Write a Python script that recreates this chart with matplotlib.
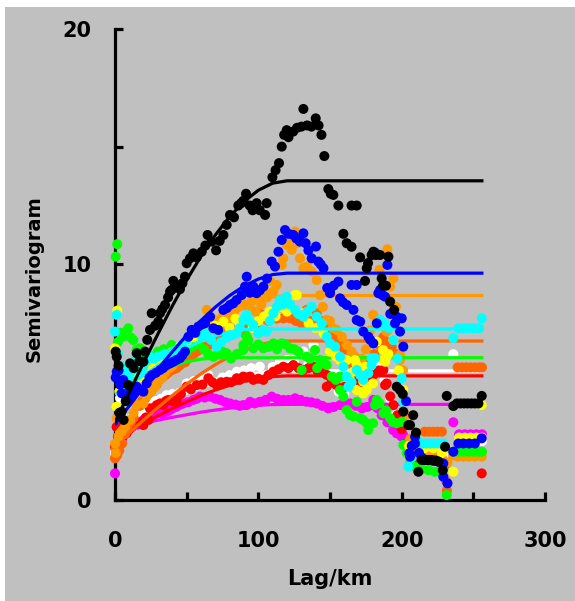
import matplotlib
matplotlib.use('Agg')
import matplotlib.pyplot as plt
from matplotlib.patches import Rectangle
from matplotlib.ticker import MultipleLocator

# experimental semivariogram points, one list pair per series
black_x = [0.5, 1.2, 2.5, 3, 4.7, 6, 7.5, 9.3, 10.5, 13, 15.1, 17, 19.8, 20.9, 22.5, 24.4, 25.6, 28, 30.2, 31.4,
           33, 34.9, 37, 38.4, 39.5, 40.7, 43, 45.3, 47, 48.8, 50, 52.3, 54.7, 57, 60.5, 63, 64.6, 67.4, 70.5, 73,
           75.6, 77.9, 80.2, 83, 86, 88, 89.5, 91.4, 94, 96, 98.8, 101, 104.7, 105.8, 109.8, 112, 114.4, 116.3, 118,
           119.8, 121, 124.3, 127, 130, 131.4, 134, 137, 140, 142, 144, 146, 148.8, 150.5, 152.3, 155.8, 159.3,
           161.6, 165, 165, 168.6, 171, 174.4, 175.6, 176.5, 179, 180.2, 182, 184.9, 186, 187, 189, 190.7, 191.9,
           194.7, 196.5, 198.8, 200.7, 201.1, 204.6, 205.8, 208, 210, 211.6, 214, 216.3, 218.6, 221, 223.5, 225.6,
           228.6, 230.2, 231.4, 236, 238.5, 241, 243.5, 246, 248.5, 251, 253.5, 255.8]
black_y = [6.3, 6.08, 5.7, 3.7, 3.75, 3.4, 4.2, 4.88, 5.8, 5.6, 6.23, 5.9, 5.87, 6.3, 6.8, 7.22, 7.93, 7.4, 7.57, 7.93,
           8.1, 8.28, 8.6, 8.85, 8.92, 9.3, 9.1, 8.95, 9.2, 9.48, 10.05, 10.26, 10.47, 10.3, 10.54, 10.8, 11.25, 10.97,
           10.6, 11.0, 11.25, 11.68, 12.1, 12.0, 12.5, 12.6, 12.7, 13.0, 12.5, 12.3, 12.6, 12.3, 12.1, 12.6, 13.7,
           14.0, 14.3, 15.0, 15.5, 15.7, 15.4, 15.64, 15.8, 15.85, 16.6, 15.9, 15.85, 16.2, 15.9, 15.5, 14.6, 13.2,
           13.0, 12.95, 12.5, 11.3, 10.9, 10.75, 12.5, 12.5, 10.3, 9.3, 9.84, 10.06, 10.4, 10.54, 10.4, 10.4, 9.41,
           9.1, 9.1, 10.33, 8.42, 8.07, 4.81, 4.67, 4.5, 3.75, 3.18, 3.18, 3.6, 2.86, 1.2, 1.7, 1.7, 1.7, 1.7, 1.68,
           1.63, 1.27, 2.26, 4.42, 3.99, 4.1, 4.1, 4.1, 4.1, 4.1, 4.1, 4.1, 4.42]

blue_x = [0.5, 1.2, 2.5, 3.5, 4.7, 5.8, 8, 10.5, 13, 15.1, 17.5, 19.8, 22.1, 24, 25.6, 28.5, 31.4, 33.5, 36.1, 38.5,
          40.7, 43, 45.3, 47, 48.8, 51.2, 53.5, 56, 58.1, 60.5, 62.8, 66.3, 68.6, 72, 75.6, 78, 80.2, 82.5, 84.8,
          88.3, 90.7, 91.9, 94, 96.5, 98.8, 101, 103.5, 106, 109.3, 111.6, 114, 116.3, 118.6, 121, 124.4, 126.5,
          129, 131.4, 133, 134.9, 137.2, 140.2, 141.9, 143.5, 145.4, 148, 150, 150, 152.5, 155.8, 157, 159, 161.6,
          165, 166.3, 168.6, 168.6, 171, 173.2, 176.7, 178, 180.2, 181.5, 182.6, 183.7, 184.9, 186.5, 188.4, 190,
          192, 195.3, 196.5, 198.8, 200, 201.1, 203, 205.3, 205.8, 207, 209.3, 209.3, 212, 214, 216.3, 219, 222,
          225.6, 229, 229, 231.9, 236, 239.5, 243, 247, 251, 255.8]
blue_y = [5.2, 5.45, 5.5, 4.9, 4.53, 5.1, 4.5, 4.3, 4.6, 4.81, 4.7, 4.6, 4.95, 5.2, 5.3, 5.4, 5.52, 5.6, 5.73, 5.8,
          5.87, 5.95, 6.02, 6.15, 6.3, 6.93, 7.22, 7.1, 7.36, 7.45, 7.5, 7.78, 7.29, 7.22, 8.07, 8.15, 8.28, 8.35,
          8.49, 8.7, 9.06, 9.48, 8.8, 9.06, 8.78, 8.9, 9.06, 9.4, 10.12, 9.91, 10.54, 11.04, 11.46, 11.3, 11.25,
          11.1, 10.97, 11.32, 10.9, 10.6, 10.26, 10.76, 10.12, 10.0, 9.84, 9.0, 8.92, 8.78, 9.1, 9.27, 8.56, 8.4,
          8.28, 9.13, 8.07, 9.13, 7.64, 7.57, 7.15, 6.93, 6.8, 6.65, 10.5, 7.5, 8.78, 8.92, 8.7, 8.63, 9.98,
          7.9, 7.5, 7.78, 7.15, 7.71, 6.51, 4.2, 1.98, 1.84, 2.3, 2.69, 2.4, 2.0, 1.8, 1.7, 1.7, 1.66,
          1.63, 1.55, 0.99, 0.71, 2.05, 2.4, 2.4, 2.4, 2.4, 2.62]

orange_x = [0, 0.5, 1.2, 2.5, 4.7, 7, 10.5, 13, 15.1, 19.8, 22, 25, 28, 30, 33, 35, 38, 40, 43, 45, 48, 50, 53, 55,
            58, 60, 62, 64, 66, 68, 70, 73, 75, 78, 80, 83, 85, 88, 90, 93, 95, 98, 100, 102, 104, 106, 108, 110.5,
            112.8, 116.3, 117.4, 119.8, 121, 123.3, 125.6, 127, 129, 131.4, 134, 137.2, 140.7, 143, 145, 147.7, 150,
            152, 154.7, 158.2, 161.6, 165, 167.4, 170, 172, 175, 178, 180, 182.6, 184.4, 187.2, 189.5, 190, 191.9,
            194.2, 196, 198.8, 198.8, 201, 203, 206, 209, 213, 218, 223, 228, 232, 236, 239, 243, 247, 251, 255.8]
orange_y = [2.4, 2.0, 3.47, 2.7, 2.9, 3.1, 3.4, 3.7, 4.03, 4.1, 4.4, 4.6, 4.8, 5.0, 5.2, 5.4, 5.6, 5.7, 5.9, 6.0, 6.3,
            6.5, 6.7, 6.8, 7.1, 7.3, 7.5, 8.07, 7.4, 7.7, 7.6, 7.3, 7.8, 7.6, 7.9, 8.0, 8.2, 7.6, 8.3, 8.2, 8.4,
            8.0, 8.6, 8.3, 8.9, 8.6, 9.3, 8.85, 9.13, 9.98, 10.26, 10.83, 11.1, 10.62, 11.39, 10.9, 10.26, 9.84,
            9.9, 9.7, 9.34, 8.7, 8.2, 7.64, 7.6, 7.3, 7.22, 6.93, 6.58, 6.3, 6.09, 5.8, 6.0, 6.4, 7.2, 7.86, 7.64,
            9.77, 7.5, 7.15, 10.64, 9.06, 9.41, 8.2, 6.16, 5.94, 5.5, 3.6, 2.6, 2.3, 2.0, 1.9, 1.9, 1.8, 1.6, 1.9,
            1.84, 1.84, 1.84, 1.84, 1.84]

dorange_x = [0, 0.5, 1.5, 3, 5, 7, 9, 11, 13, 15.1, 17, 19, 21, 23, 25, 27, 29, 31, 33, 35, 37, 39, 41, 43, 45, 47,
             49, 51, 53, 55, 57, 60, 63, 66, 69, 72, 75, 78, 81, 84, 87, 90, 93, 96, 99, 101, 104, 107, 110, 113,
             117.4, 122, 126, 130, 133.7, 137, 140.7, 144, 148, 151, 154, 157, 160, 163, 166, 169, 172, 175, 178,
             181, 184, 187, 190, 193, 196, 199, 202, 205, 208, 212, 216, 219, 222, 225, 228, 231, 231.5, 239, 242,
             245, 248, 251, 254, 256]
dorange_y = [1.77, 2.2, 1.9, 2.1, 2.4, 2.8, 3.0, 3.3, 3.5, 4.03, 4.0, 4.2, 4.3, 4.5, 4.6, 4.8, 4.9, 5.1, 5.2, 5.3,
             5.4, 5.5, 5.55, 5.6, 5.7, 5.8, 5.85, 6.0, 6.1, 6.2, 6.3, 6.4, 6.5, 6.6, 6.7, 6.9, 7.0, 7.1, 7.0, 7.2,
             7.3, 7.1, 7.3, 7.4, 7.5, 7.93, 7.7, 7.6, 7.8, 7.7, 7.71, 7.71, 7.6, 7.5, 8.07, 7.6, 7.93, 7.6, 7.3,
             7.0, 6.9, 6.6, 6.4, 6.0, 5.7, 5.6, 5.4, 5.5, 5.8, 6.2, 6.6, 6.9, 6.7, 6.5, 6.2, 5.5, 4.2, 2.5, 2.0,
             2.3, 2.9, 2.9, 2.9, 2.9, 2.9, 0.8, 0.4, 5.63, 5.63, 5.63, 5.63, 5.63, 5.63, 5.63]

cyan_x = [0, 1.2, 2, 4.7, 5.8, 8, 10, 12, 14, 16.3, 18, 19.8, 22, 24.4, 27, 30, 33.7, 36, 38, 41, 44, 47, 50, 52.3,
          55, 57, 60, 64, 67, 71, 74, 78, 82, 85, 87, 89.5, 91.9, 94, 96.5, 100, 103, 105.6, 108, 110.5, 113, 115,
          117, 119.8, 122, 125.6, 128, 131.4, 134, 137.2, 140.7, 144.2, 147.7, 150, 153.5, 157, 159.3, 161.6, 162.8,
          165, 168.6, 171, 173.2, 176.7, 179, 179, 181.4, 184.9, 188, 191, 194.2, 197, 200, 201.1, 204.6, 207, 211,
          214, 217, 220, 223, 226, 229, 236, 239.5, 243, 246.5, 250, 254, 255.8]
cyan_y = [7.15, 7.86, 6.2, 5.66, 5.66, 5.4, 5.2, 5.5, 5.9, 5.8, 5.5, 5.66, 5.9, 6.08, 6.0, 6.1, 6.16, 6.2, 6.2, 6.3,
          6.4, 6.6, 6.8, 7.0, 7.1, 7.15, 7.0, 7.08, 6.8, 6.51, 6.7, 6.9, 7.0, 7.08, 7.3, 7.64, 7.86, 7.6, 7.43,
          7.08, 7.2, 7.15, 7.6, 7.93, 8.2, 8.49, 8.3, 8.63, 8.3, 8.07, 7.9, 7.78, 8.0, 8.21, 7.78, 7.5, 6.93, 6.65,
          6.51, 6.08, 5.66, 5.24, 4.81, 5.0, 5.52, 5.3, 5.1, 5.38, 5.73, 6.02, 6.02, 7.64, 7.5, 7.3, 6.79, 6.0,
          5.17, 4.17, 1.41, 1.8, 2.48, 2.4, 2.4, 2.4, 2.4, 2.4, 2.4, 6.87, 7.29, 7.29, 7.29, 7.29, 7.29, 7.71]

green_x = [0.5, 1.6, 2, 4, 5.8, 9.3, 11, 12.8, 15.1, 17.4, 20, 23, 26, 30, 34, 39.5, 42, 46, 50, 54, 58, 62, 65,
           68.6, 72, 75, 77.9, 81, 85, 89.5, 89.5, 91.9, 93, 96.5, 100, 103.5, 107, 110.5, 113, 116.3, 119, 122,
           125, 127.9, 130.2, 133.7, 136, 139.5, 141, 143, 145, 147.7, 151.2, 154, 157, 157, 159.3, 161.6, 164,
           166.3, 168.6, 171, 173, 175.6, 176.7, 180, 181.4, 182.6, 184.5, 187.2, 189, 191.9, 194, 196.5, 200,
           201.1, 203.5, 206, 210, 214, 218.6, 223, 226.5, 229, 231.4, 236, 239.5, 243, 246.5, 250, 253.5, 256]
green_y = [10.33, 10.86, 6.7, 7.1, 6.93, 7.29, 6.9, 6.79, 6.37, 6.44, 6.2, 6.0, 6.1, 6.3, 6.4, 6.58, 6.4, 6.2, 6.3,
           6.5, 6.6, 6.4, 6.2, 6.08, 6.2, 6.3, 6.23, 6.0, 6.2, 6.37, 6.58, 6.93, 6.79, 6.44, 6.6, 6.44, 6.5, 6.65,
           6.4, 6.65, 6.6, 6.44, 6.4, 6.3, 5.52, 6.09, 6.0, 6.37, 5.6, 5.94, 5.8, 5.73, 5.24, 5.1, 5.24, 4.67,
           4.39, 3.82, 3.6, 3.54, 4.17, 3.47, 3.4, 3.26, 2.97, 3.26, 4.03, 4.25, 4.1, 3.68, 3.8, 3.47, 3.3, 3.26,
           3.32, 2.34, 2.0, 1.6, 1.4, 1.3, 1.27, 1.2, 1.2, 1.3, 0.21, 2.05, 2.05, 2.05, 2.05, 2.05, 2.05, 2.05]

white_x = [0, 1.5, 3.5, 5, 8, 12, 16, 20, 24, 28, 32, 36, 40, 45, 50, 55, 60, 65, 70, 75, 80, 85, 90, 95, 101, 105,
           110, 115, 120, 125, 131.4, 135, 138.4, 142, 145, 148.8, 152, 156, 160, 165, 170, 175, 180, 185, 188, 192,
           196, 200, 204, 208, 212, 218, 224, 229, 236, 240, 244, 248, 252, 256]
white_y = [2.0, 2.5, 4.32, 3.6, 3.3, 3.5, 3.6, 3.5, 4.0, 4.2, 4.3, 4.45, 4.5, 4.55, 4.95, 5.05, 5.1, 5.3, 5.0, 5.2,
           5.3, 5.45, 5.5, 5.6, 5.66, 5.3, 5.65, 5.85, 5.95, 5.95, 6.3, 5.8, 6.58, 5.7, 5.5, 4.81, 5.0, 4.6, 4.5,
           4.9, 4.7, 5.2, 5.6, 5.75, 5.1, 4.3, 3.6, 3.0, 2.2, 2.0, 2.2, 2.1, 2.1, 1.9, 6.19, 2.5, 2.5, 2.5, 2.5, 2.5]

red_x = [0, 0.8, 1.2, 2, 3.5, 5.5, 8.1, 10, 12.5, 15.1, 17.5, 19.8, 21.5, 23.3, 24.4, 26.5, 29.1, 31.5, 33.7, 35.5,
         37.2, 40, 43, 46, 50, 53, 57, 61, 65.1, 68, 71, 74, 77.9, 81, 84.9, 87, 89.5, 92, 94.2, 96.5, 100, 103.5,
         107, 110.5, 114, 117.4, 121, 124.4, 128, 131.4, 135, 138.4, 141, 143, 145.5, 147.7, 147.7, 151, 154, 157,
         160, 164, 168, 172, 176, 180, 184, 187.2, 188.4, 189.5, 192, 194.2, 197, 200, 203, 206, 210, 215, 220,
         225, 230, 255.8]
red_y = [2.26, 2.0, 3.1, 2.69, 2.55, 2.7, 2.83, 3.0, 3.2, 3.26, 3.3, 3.18, 3.5, 3.4, 3.89, 3.9, 4.03, 4.1, 4.03,
         4.2, 4.25, 4.2, 4.25, 4.5, 4.81, 4.7, 4.88, 4.9, 5.17, 5.0, 4.88, 5.0, 5.02, 5.0, 5.17, 5.1, 5.24, 5.2,
         5.24, 5.1, 5.15, 5.1, 5.3, 5.45, 5.55, 5.66, 5.6, 5.73, 5.6, 5.52, 5.6, 5.66, 5.5, 5.52, 5.4, 5.31, 4.81,
         5.0, 4.9, 4.7, 4.8, 4.9, 5.1, 5.0, 5.2, 5.3, 5.5, 5.52, 4.88, 4.95, 4.4, 4.03, 3.6, 3.0, 2.4, 2.0, 1.8,
         1.9, 1.9, 1.8, 1.5, 1.13]

magenta_x = [0, 1.2, 2, 5, 8, 12, 16, 20, 24, 27, 29.1, 31.5, 33.7, 36, 38.4, 40.5, 43, 45.5, 47.7, 51, 54.7, 57,
             59.3, 62.5, 66.3, 70, 73.3, 77, 80.2, 84, 87, 89.5, 91.9, 94.2, 97.5, 101, 105, 109.3, 113, 117.4, 121,
             125.6, 129.5, 133.7, 137, 140.7, 144.5, 148.8, 152.5, 157, 160.5, 164, 168, 172.3, 176, 179.3, 180.2,
             183, 186, 190, 194, 196.5, 199.8, 201, 203, 206, 210, 236, 240, 244, 248, 252, 256]
magenta_y = [1.13, 3.1, 2.2, 2.6, 2.9, 3.1, 3.2, 3.4, 3.5, 3.6, 3.68, 3.7, 3.68, 3.75, 3.82, 3.9, 3.96, 4.05, 4.1,
             4.15, 4.25, 4.3, 4.39, 4.35, 4.39, 4.3, 4.25, 4.15, 4.1, 4.05, 4.0, 4.03, 4.03, 4.17, 4.1, 4.17, 4.25,
             4.39, 4.3, 4.25, 4.25, 4.32, 4.25, 4.17, 4.15, 4.1, 4.0, 3.89, 3.95, 4.03, 4.05, 4.1, 4.0, 3.89, 3.95,
             4.03, 4.25, 3.9, 3.6, 3.3, 2.97, 2.83, 2.7, 2.76, 2.6, 2.4, 2.0, 3.3, 2.79, 2.79, 2.79, 2.79, 2.79]

yellow_x = [0, 1.6, 1, 3, 5.8, 8, 10, 12, 15, 18, 22, 26, 30, 35, 40, 45, 50, 55, 60, 65, 70, 75.6, 80, 84, 87, 92,
            96, 100, 104, 108, 112, 116, 120, 125.6, 126.8, 131.4, 135, 140, 145.4, 150, 154, 157, 161.6, 164, 166.3,
            167.4, 168.6, 168.6, 173.2, 173.2, 174.4, 175.6, 180, 182.6, 187, 187.2, 188.4, 189.5, 190.7, 194.2, 198,
            201.1, 205, 210, 216, 222, 228, 236, 240, 244, 248, 252, 255.8, 256]
yellow_y = [6.44, 8.04, 3.96, 4.6, 4.67, 5.0, 5.2, 5.5, 5.4, 5.2, 5.5, 5.8, 6.0, 6.2, 6.3, 6.5, 6.7, 6.9, 7.1, 7.3,
            7.4, 7.57, 7.3, 7.7, 7.5, 7.7, 7.3, 7.6, 7.8, 8.0, 7.8, 8.2, 8.0, 8.7, 8.7, 7.93, 7.5, 7.3, 7.08, 6.3,
            6.1, 5.94, 5.94, 5.1, 5.45, 5.94, 5.73, 4.67, 4.53, 5.02, 5.66, 4.67, 4.95, 6.72, 6.37, 5.94, 5.87,
            6.09, 6.2, 6.8, 5.5, 4.67, 2.3, 2.4, 2.2, 2.2, 2.0, 1.2, 2.65, 2.65, 2.65, 2.65, 4.03, 2.65]

# fitted model curves
line_x = [0, 10, 20, 30, 40, 50, 60, 70, 80, 90, 100, 110, 120, 257]
black_fit = [3.3, 4.58, 5.84, 7.06, 8.24, 9.34, 10.35, 11.25, 12.03, 12.67, 13.15, 13.45, 13.55, 13.55]
blue_fit = [3.2, 4.0, 4.79, 5.56, 6.3, 6.99, 7.62, 8.19, 8.68, 9.08, 9.38, 9.57, 9.63, 9.63]
orange_fit = [2.8, 3.53, 4.26, 4.96, 5.63, 6.26, 6.84, 7.36, 7.81, 8.17, 8.45, 8.62, 8.68, 8.68]
cyan_fit = [4.5, 4.9, 5.3, 5.7, 6.1, 6.45, 6.75, 6.98, 7.14, 7.23, 7.26, 7.26, 7.26, 7.26]
dorange_fit = [2.3, 2.85, 3.4, 3.93, 4.44, 4.92, 5.36, 5.75, 6.09, 6.37, 6.58, 6.71, 6.75, 6.75]
green_fit = [4.6, 4.9, 5.2, 5.45, 5.7, 5.87, 5.98, 6.03, 6.04, 6.04, 6.04, 6.04, 6.04, 6.04]
white_fit = [3.2, 3.48, 3.76, 4.04, 4.3, 4.54, 4.77, 4.97, 5.14, 5.28, 5.39, 5.46, 5.48, 5.48]
red_fit = [2.6, 2.93, 3.26, 3.58, 3.89, 4.17, 4.44, 4.67, 4.87, 5.04, 5.17, 5.24, 5.27, 5.27]
magenta_fit = [3.0, 3.13, 3.26, 3.39, 3.51, 3.62, 3.73, 3.82, 3.9, 3.97, 4.02, 4.05, 4.06, 4.06]

# drawing order, bottom to top: (points x, points y, model curve, colour)
series = [
    (white_x, white_y, white_fit, '#ffffff'),
    (magenta_x, magenta_y, magenta_fit, '#ff00ff'),
    (red_x, red_y, red_fit, '#ff0000'),
    (dorange_x, dorange_y, dorange_fit, '#ff6600'),
    (orange_x, orange_y, orange_fit, '#ff9900'),
    (green_x, green_y, green_fit, '#00ff00'),
    (yellow_x, yellow_y, None, '#ffff00'),
    (cyan_x, cyan_y, cyan_fit, '#00ffff'),
    (blue_x, blue_y, blue_fit, '#0000ff'),
    (black_x, black_y, black_fit, '#000000'),
]

fig = plt.figure(figsize=(5.75, 6.01), dpi=100, facecolor='white')
fig.patches.append(Rectangle((5 / 575, 0), 1, 594 / 601, transform=fig.transFigure,
                             facecolor='#c0c0c0', edgecolor='none', zorder=-10))
ax = fig.add_axes([0.2, 0.168, 0.748, 0.784])
ax.set_facecolor('none')

z = 3
for xs, ys, fit, c in series:
    if fit is not None:
        ax.plot(line_x, fit, color=c, lw=2.3, zorder=z, solid_capstyle='butt')
    ax.scatter(xs, ys, s=52, color=c, edgecolors='none', zorder=z + 0.01, clip_on=False)
    z += 0.1

ax.set_xlim(0, 300)
ax.set_ylim(0, 20)
ax.xaxis.set_major_locator(MultipleLocator(100))
ax.xaxis.set_minor_locator(MultipleLocator(50))
ax.yaxis.set_major_locator(MultipleLocator(10))
ax.yaxis.set_minor_locator(MultipleLocator(5))
for s in ['top', 'right']:
    ax.spines[s].set_visible(False)
for s in ['left', 'bottom']:
    ax.spines[s].set_linewidth(2.3)
ax.tick_params(which='both', direction='in', length=6, width=2.3, color='black')
ax.tick_params(axis='x', which='major', pad=22, labelsize=15)
ax.tick_params(axis='y', which='major', pad=17, labelsize=15)
for lab in ax.get_xticklabels() + ax.get_yticklabels():
    lab.set_fontweight('bold')

ax.set_xlabel('Lag/km', fontsize=15, fontweight='bold')
ax.set_ylabel('Semivariogram', fontsize=14, fontweight='bold')
ax.xaxis.set_label_coords(0.5, -0.146)
ax.yaxis.set_label_coords(-0.165, 0.47)

plt.savefig('out.png', dpi=100, facecolor=fig.get_facecolor())
